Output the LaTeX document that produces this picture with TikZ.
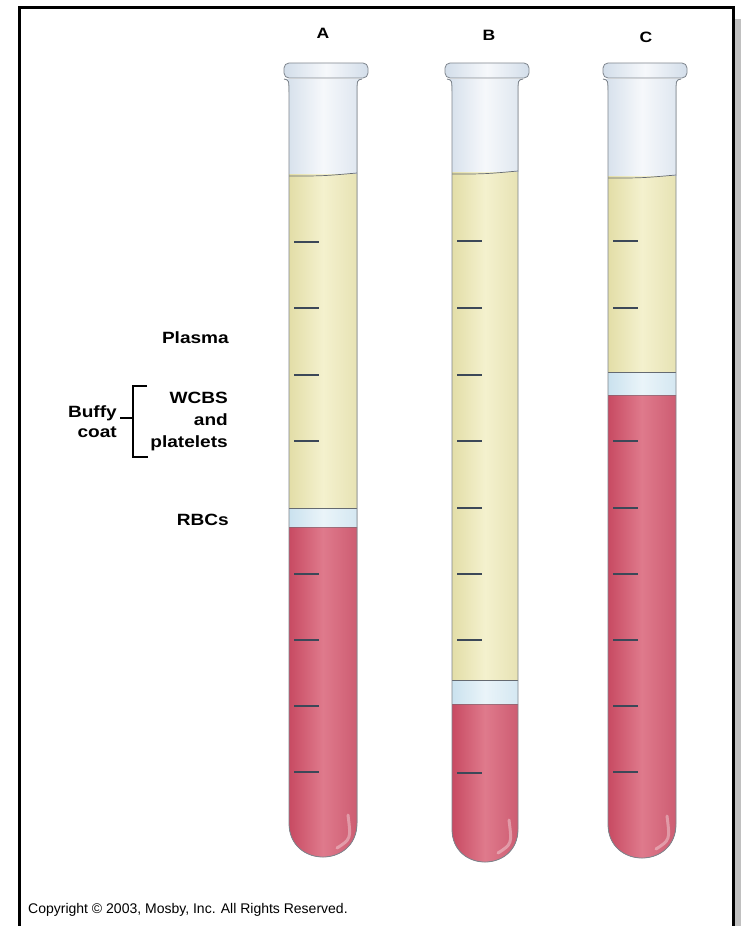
\documentclass[tikz,border=0pt]{standalone}
\usepackage{fontspec}
\setmainfont{Liberation Sans}
\newfontfamily\labelfont[FakeStretch=1.17]{Liberation Sans Bold}
\definecolor{frameshadow}{HTML}{C0C0C0}
\definecolor{glassedge}{HTML}{D3DEEA}
\definecolor{glassmid}{HTML}{F6F8FB}
\definecolor{plasmaedge}{HTML}{E2DDA6}
\definecolor{plasmamid}{HTML}{F4F1CE}
\definecolor{buffyedge}{HTML}{C9E1EE}
\definecolor{buffymid}{HTML}{EAF4F9}
\definecolor{rbcedge}{HTML}{C74961}
\definecolor{rbcmid}{HTML}{DF7A8C}
\definecolor{tubeline}{HTML}{7E858D}
\definecolor{tickline}{HTML}{3C4858}
\tikzset{
  glass/.style={left color=glassedge, right color=glassedge!80, middle color=glassmid},
  plasma/.style={left color=plasmaedge, right color=plasmaedge!85, middle color=plasmamid},
  buffy/.style={left color=buffyedge, right color=buffyedge!80, middle color=buffymid},
  rbc/.style={left color=rbcedge, right color=rbcedge!90!white, middle color=rbcmid},
  outline/.style={draw=tubeline, line width=0.8pt},
  tickmark/.style={draw=tickline, line width=1.2pt},
  layerline/.style={draw=tubeline!80!black, line width=0.7pt},
  bigtext/.style={font=\labelfont\fontsize{16.3}{20}\selectfont, inner sep=0pt},
  tubetitle/.style={font=\labelfont\fontsize{15}{16}\selectfont, inner sep=0pt},
  bracket/.style={draw=black, line width=1.8pt},
}
% #1 centre x, #2 half width, #3 bottom, #4 plasma top, #5 buffy top,
% #6 red cell top, #7 rim centre x, #8 graduation marks
\newcommand\bloodtube[8]{%
  \begin{scope}
    \clip ({#1-#2-5},79) .. controls ({#1-#2},80) .. ({#1-#2},94)
      -- ({#1-#2},{#3-#2}) .. controls ({#1-#2},{#3+#2/3}) and ({#1+#2},{#3+#2/3}) .. ({#1+#2},{#3-#2})
      -- ({#1+#2},94) .. controls ({#1+#2},80) .. ({#1+#2+5},79) -- cycle;
    \fill[glass] ({#1-#2-6},70) rectangle ({#1+#2+6},#4);
    \fill[plasma] ({#1-#2-1},#4) rectangle ({#1+#2+1},#5);
    \fill[buffy] ({#1-#2-1},#5) rectangle ({#1+#2+1},#6);
    \fill[rbc] ({#1-#2-1},#6) rectangle ({#1+#2+1},{#3+2});
    \draw[white, opacity=0.35, line width=3pt, line cap=round]
      ({#1+#2-9},{#3-42}) .. controls ({#1+#2-6},{#3-18}) .. ({#1+#2-20},{#3-9});
    \draw[layerline] ({#1-#2},{#4+2}) .. controls ({#1},{#4+2}) .. ({#1+#2},{#4-1});
    \draw[layerline] ({#1-#2},#5) -- ({#1+#2},#5);
    \draw[layerline, opacity=0.5] ({#1-#2},#6) -- ({#1+#2},#6);
    \foreach \t in {#8} \draw[tickmark] ({#1-#2+5},\t) -- ({#1-#2+30},\t);
  \end{scope}
  \draw[outline] ({#1-#2-5},79) .. controls ({#1-#2},80) .. ({#1-#2},94)
      -- ({#1-#2},{#3-#2}) .. controls ({#1-#2},{#3+#2/3}) and ({#1+#2},{#3+#2/3}) .. ({#1+#2},{#3-#2})
      -- ({#1+#2},94) .. controls ({#1+#2},80) .. ({#1+#2+5},79);
  \draw[outline, left color=glassedge, right color=glassedge, middle color=glassmid, rounded corners=5pt]
    ({#7-42},63) rectangle ({#7+42},78);
}
\begin{document}
\begin{tikzpicture}[x=1pt, y=-1pt]
  \useasboundingbox (0,0) rectangle (741,926);
  \fill[white] (0,0) rectangle (741,926);
  % page frame and its shadow
  \fill[frameshadow] (735,19) rectangle (741,926);
  \draw[line width=3pt] (19.5,926) -- (19.5,7.5) -- (733,7.5) -- (733,926);

  % the three tubes
  \bloodtube{323}{34}{857}{174}{508}{527}{326}{242,308,375,441,574,640,706,772}
  \bloodtube{485}{33}{862}{172}{680}{704}{487}{241,308,375,441,508,574,640,773}
  \bloodtube{642}{34}{858}{176}{372}{395}{645}{241,308,441,508,574,640,706,772}

  \node[tubetitle, anchor=base] (ta) at (323,38) {A};
  \node[tubetitle, anchor=base] (tb) at (489,40) {B};
  \node[tubetitle, anchor=base] (tc) at (646,42) {C};

  % layer labels
  \node[bigtext, anchor=base east] (plasma) at (229,343) {Plasma};
  \node[bigtext, anchor=base east] (wcbs) at (228,403) {WCBS};
  \node[bigtext, anchor=base east] (and) at (228,425) {and};
  \node[bigtext, anchor=base east] (platelets) at (228,447) {platelets};
  \node[bigtext, anchor=base east] (rbcs) at (229,525) {RBCs};
  \node[bigtext, anchor=base east] (buffy) at (117,417) {Buffy};
  \node[bigtext, anchor=base east] (coat) at (117,437) {coat};
  \draw[bracket] (147,386) -- (133,386) -- (133,457) -- (148,457);
  \draw[bracket] (120,418) -- (133,418);

  \node[font=\fontsize{14}{16}\selectfont, inner sep=0pt, anchor=base west] (copy) at (28,913)
    {Copyright © 2003, Mosby, Inc. All Rights Reserved.};
\end{tikzpicture}
\end{document}
